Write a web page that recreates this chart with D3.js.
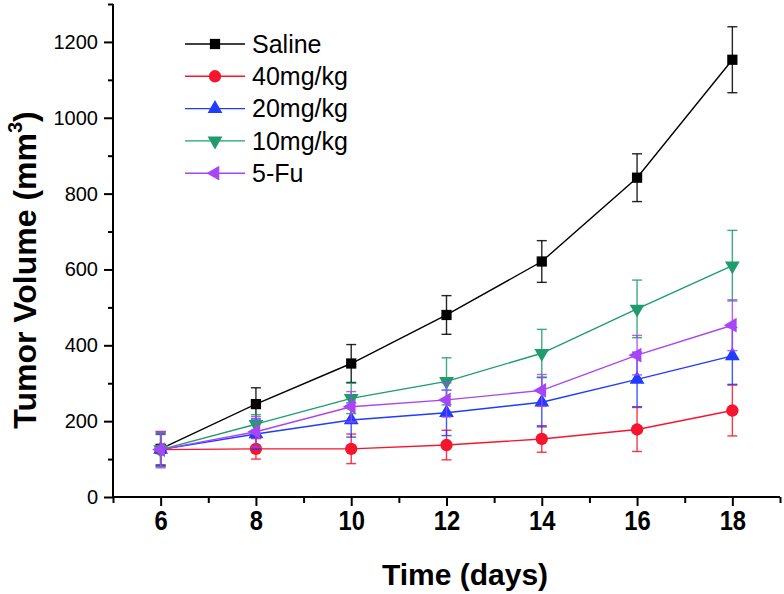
<!DOCTYPE html>
<html>
<head>
<meta charset="utf-8">
<script src="https://cdn.jsdelivr.net/npm/d3@7"></script>
<style>
  html, body { margin: 0; padding: 0; background: #fff; }
  svg { display: block; font-family: "Liberation Sans", Arial, sans-serif; }
</style>
</head>
<body>
<svg id="chart" width="784" height="594"></svg>
<script>
// ---- data ----
const days = [6, 8, 10, 12, 14, 16, 18];
const seriesNames = ["Saline", "40mg/kg", "20mg/kg", "10mg/kg", "5-Fu"];
const saline = [127, 245, 352, 480, 621, 842, 1153];
const salineErr = [45, 43, 50, 51, 55, 63, 87];
const mg40 = [125, 127, 127, 137, 153, 178, 228];
const mg40Err = [42, 27, 39, 39, 35, 58, 67];
const mg20 = [125, 166, 203, 222, 250, 310, 372];
const mg20Err = [40, 40, 45, 60, 65, 72, 75];
const mg10 = [125, 192, 260, 305, 379, 496, 610];
const mg10Err = [45, 25, 40, 62, 63, 76, 93];
const fu = [125, 172, 238, 256, 281, 374, 453];
const fuErr = [48, 40, 40, 45, 42, 52, 67];
const xTicks = [6, 8, 10, 12, 14, 16, 18];
const yTicks = [0, 200, 400, 600, 800, 1000, 1200];
const colors = ["#000000", "#f5162e", "#1f3cff", "#1f9c6e", "#a845f5"];

const values = [saline, mg40, mg20, mg10, fu];
const errors = [salineErr, mg40Err, mg20Err, mg10Err, fuErr];

const svg = d3.select("#chart");
const x = d3.scaleLinear().domain([5, 19]).range([113, 780]);
const y = d3.scaleLinear().domain([0, 1300]).range([497, 4]);

// symbols
const symbols = [
  { type: d3.symbolSquare, size: 105, rot: 0 },
  { type: d3.symbolCircle, size: 120, rot: 0 },
  { type: d3.symbolTriangle, size: 95, rot: 0 },
  { type: d3.symbolTriangle, size: 95, rot: 180 },
  { type: d3.symbolTriangle, size: 95, rot: -90 }
];

// axes
const xAxis = d3.axisBottom(x).tickValues(d3.range(5, 20)).tickSize(8).tickFormat(d => xTicks.includes(d) ? d : "");
const gx = svg.append("g").attr("transform", "translate(0,497)").call(xAxis);
gx.select(".domain").attr("stroke", "#000").attr("stroke-width", 2).attr("d", "M113,0H780");
gx.selectAll(".tick line").attr("stroke", "#000").attr("stroke-width", 2)
  .attr("y2", d => (d % 2 === 0 ? 9 : 6));
gx.selectAll(".tick text").attr("y", 0).attr("dy", null)
  .attr("transform", "translate(0,33) scale(0.88,1)")
  .attr("font-size", 27).attr("font-weight", "bold").attr("fill", "#000")
  .attr("font-family", "'Liberation Sans', Arial, sans-serif");

const yAxis = d3.axisLeft(y).tickValues(d3.range(0, 1301, 100)).tickSize(8)
  .tickFormat(d => yTicks.includes(d) ? d : "");
const gy = svg.append("g").attr("transform", "translate(113,0)").call(yAxis);
gy.select(".domain").attr("stroke", "#000").attr("stroke-width", 2).attr("d", "M0,4V497");
gy.selectAll(".tick line").attr("stroke", "#000").attr("stroke-width", 2)
  .attr("x2", d => (d % 200 === 0 ? -9 : -5));
gy.selectAll(".tick text").attr("x", -15).attr("font-size", 20).attr("fill", "#000")
  .attr("font-family", "'Liberation Sans', Arial, sans-serif");

// axis titles
svg.append("text").attr("x", 465).attr("y", 585).attr("text-anchor", "middle")
  .attr("font-size", 30).attr("font-weight", "bold").text("Time (days)");
const yt = svg.append("text").attr("transform", "translate(36,270) rotate(-90)")
  .attr("text-anchor", "middle").attr("font-size", 32).attr("font-weight", "bold");
yt.append("tspan").text("Tumor Volume (mm");
yt.append("tspan").attr("font-size", 20).attr("dy", -14).text("3");
yt.append("tspan").attr("dy", 14).text(")");

// series
const line = d3.line().x((d, i) => x(days[i])).y(d => y(d));
values.forEach((vals, s) => {
  const g = svg.append("g");
  const col = colors[s];
  g.append("path").attr("d", line(vals)).attr("fill", "none").attr("stroke", col).attr("stroke-width", 1.4);
  vals.forEach((v, i) => {
    const e = errors[s][i];
    const cx = x(days[i]);
    g.append("line").attr("x1", cx).attr("x2", cx).attr("y1", y(v - e)).attr("y2", y(v + e))
      .attr("stroke", col).attr("stroke-width", 1.4).attr("opacity", 0.85);
    [v - e, v + e].forEach(c => {
      g.append("line").attr("x1", cx - 5).attr("x2", cx + 5).attr("y1", y(c)).attr("y2", y(c))
        .attr("stroke", col).attr("stroke-width", 1.4).attr("opacity", 0.85);
    });
  });
  const sym = symbols[s];
  vals.forEach((v, i) => {
    g.append("path").attr("d", d3.symbol().type(sym.type).size(sym.size)())
      .attr("transform", `translate(${x(days[i])},${y(v)}) rotate(${sym.rot})`)
      .attr("fill", col);
  });
});

// legend
const leg = svg.append("g");
seriesNames.forEach((name, s) => {
  const ly = 44 + s * 32.3;
  const col = colors[s];
  leg.append("line").attr("x1", 185).attr("x2", 245).attr("y1", ly).attr("y2", ly)
    .attr("stroke", col).attr("stroke-width", 1.4);
  const sym = symbols[s];
  leg.append("path").attr("d", d3.symbol().type(sym.type).size(sym.size)())
    .attr("transform", `translate(215,${ly}) rotate(${sym.rot})`).attr("fill", col);
  leg.append("text").attr("x", 252).attr("y", ly).attr("dy", "0.35em")
    .attr("font-size", 25).attr("fill", "#000").text(name);
});
</script>
</body>
</html>
